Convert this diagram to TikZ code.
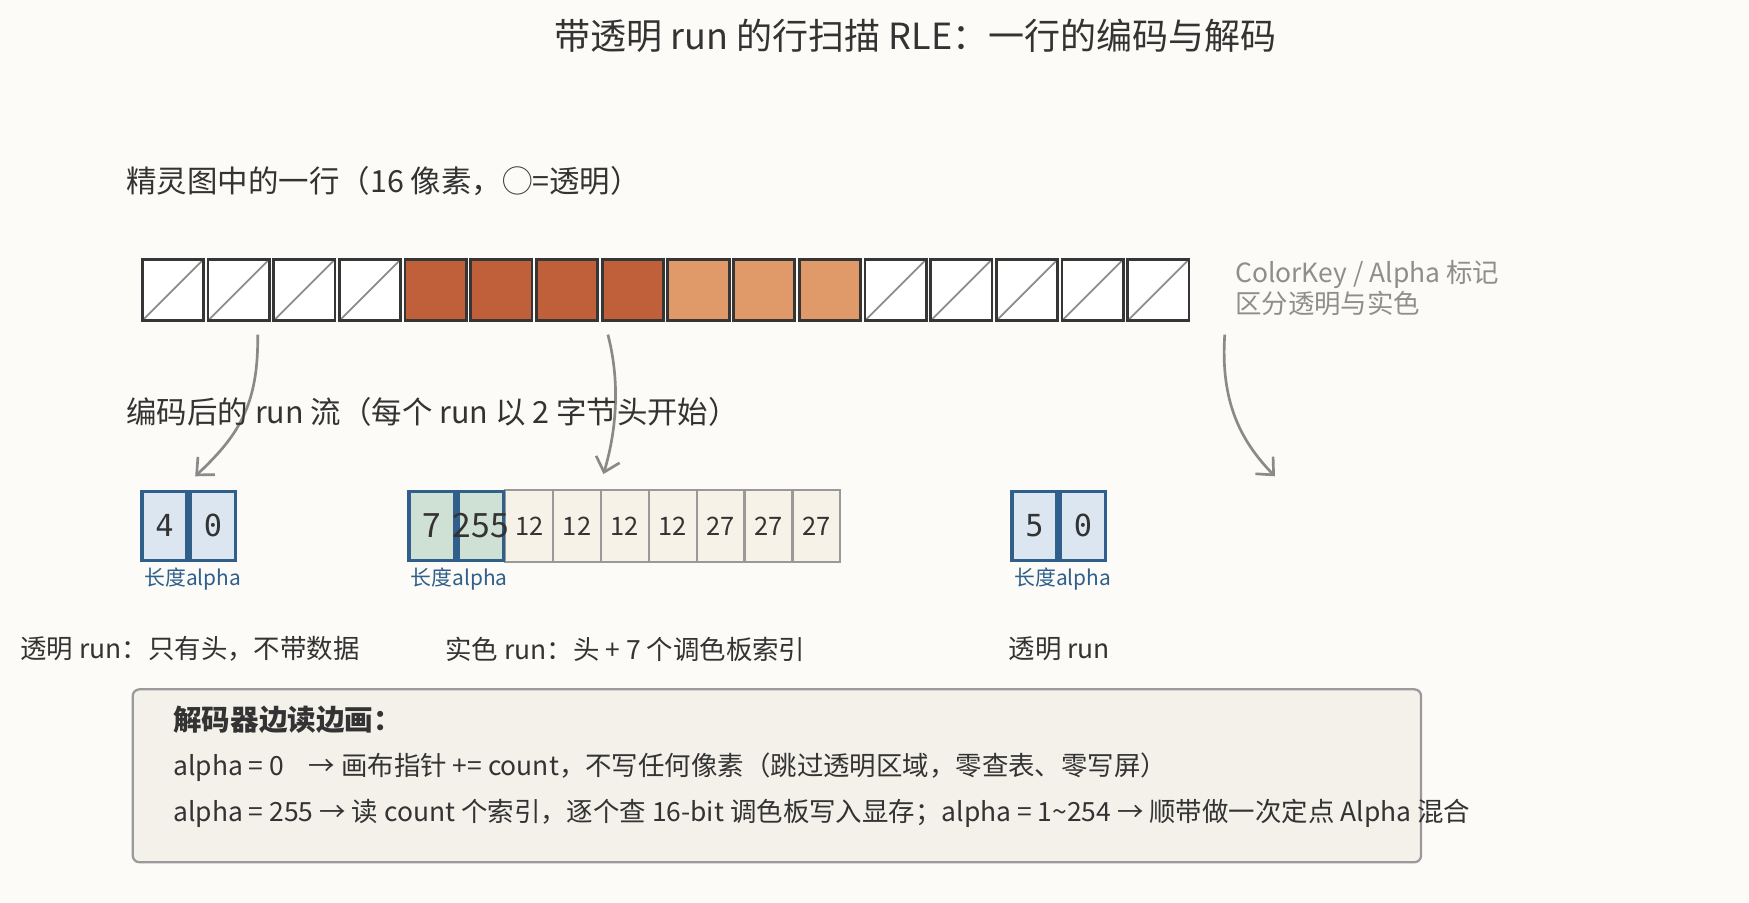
\documentclass[tikz,border=0pt]{standalone}
\usepackage{fontspec}
\setmainfont{Noto Sans CJK SC}
\newfontfamily\monofont{DejaVu Sans Mono}
\usetikzlibrary{positioning,arrows.meta}

\definecolor{bgcol}{HTML}{FCFBF7}
\definecolor{ink}{HTML}{333333}
\definecolor{pixedge}{HTML}{363636}
\definecolor{darkpix}{HTML}{C0603A}
\definecolor{lightpix}{HTML}{E09A6A}
\definecolor{diagcol}{HTML}{8C8C8C}
\definecolor{arrowcol}{HTML}{8A8A8A}
\definecolor{keycol}{HTML}{8E8E8E}
\definecolor{hdredge}{HTML}{2F5F8A}
\definecolor{clearfill}{HTML}{DCE6F1}
\definecolor{solidfill}{HTML}{CFE0D4}
\definecolor{idxedge}{HTML}{999999}
\definecolor{idxfill}{HTML}{F6F2E8}
\definecolor{noteedge}{HTML}{9A9A9A}
\definecolor{notefill}{HTML}{F3F1EA}

\tikzset{
  txt/.style={inner sep=0pt, anchor=west, text=ink, font=\fontsize{11.85}{14}\selectfont},
  captxt/.style={txt, font=\fontsize{13.65}{16}\selectfont},
  pixbox/.style={draw=pixedge, line width=1.25pt, minimum width=27.5pt, minimum height=27.5pt, inner sep=0pt},
  pixt/.style={pixbox, fill=white, path picture={\draw[diagcol, line width=0.8pt] (path picture bounding box.south west) -- (path picture bounding box.north east);}},
  pixd/.style={pixbox, fill=darkpix},
  pixl/.style={pixbox, fill=lightpix},
  hdr/.style={draw=hdredge, line width=1.5pt, minimum width=20.25pt, minimum height=31pt, inner sep=0pt, text=ink},
  hdrclear/.style={hdr, fill=clearfill, font=\monofont\fontsize{13.6}{14}\selectfont},
  hdrsolid/.style={hdr, fill=solidfill, font=\fontsize{15}{16}\selectfont},
  idx/.style={draw=idxedge, line width=1pt, fill=idxfill, minimum width=21.45pt, minimum height=32pt, inner sep=0pt, text=ink, font=\fontsize{11.4}{12}\selectfont},
  lbl/.style={inner sep=0pt, anchor=west, text=hdredge, font=\fontsize{9.35}{11}\selectfont},
  flow/.style={draw=arrowcol, line width=1.2pt, -{Straight Barb[length=6pt,width=11pt]}},
  notebox/.style={draw=noteedge, line width=1pt, fill=notefill, rounded corners=3pt, minimum width=577.5pt, minimum height=77.5pt, inner sep=0pt}
}

\begin{document}
\begin{tikzpicture}[x=0.5pt, y=-0.5pt]
  \fill[bgcol] (0,0) rectangle (1568,809);
  \useasboundingbox (0,0) rectangle (1568,809);

  % title
  \node[txt, anchor=center, font=\fontsize{16.15}{18}\selectfont] (title) at (821,32) {带透明 run 的行扫描 RLE：一行的编码与解码};

  % one sprite row, 16 pixels
  \node[captxt] (rowcap) at (113,162) {精灵图中的一行（16 像素，◯=透明）};
  \foreach \k [count=\i from 0] in {t,t,t,t,d,d,d,d,l,l,l,t,t,t,t,t}
    \node[pix\k] (p\i) at ({155+58.9*\i},260) {};
  \node[txt, text=keycol, align=left] (key) at (1107,258) {ColorKey / Alpha 标记\\区分透明与实色};

  % arrows down to the runs
  \coordinate (a1s) at (231,300); \coordinate (a1e) at (175,427);
  \coordinate (a2s) at (545,300); \coordinate (a2e) at (541,425);
  \coordinate (a3s) at (1098,300); \coordinate (a3e) at (1143,427);
  \draw[flow] (a1s) .. controls (232,365) and (212,392) .. (a1e);
  \draw[flow] (a2s) .. controls (558,350) and (550,395) .. (a2e);
  \draw[flow] (a3s) .. controls (1094,360) and (1112,395) .. (a3e);

  % encoded run stream
  \node[captxt] (runcap) at (113,369) {编码后的 run 流（每个 run 以 2 字节头开始）};

  \node[hdrclear] (r1a) at (147.5,471.5) {4};
  \node[hdrclear] (r1b) at (191,471.5) {0};
  \node[lbl] (l1) at (129,519) {长度alpha};

  \foreach \v [count=\i] in {12,12,12,12,27,27,27}
    \node[idx] (d\i) at ({431.55+42.9*\i},471.5) {\v};
  \node[hdrsolid] (r2a) at (387,471.5) {7};
  \node[hdrsolid] (r2b) at (431,471.5) {\makebox[0pt]{255}};
  \node[lbl] (l2) at (368,519) {长度alpha};

  \node[hdrclear] (r3a) at (927.5,471.5) {5};
  \node[hdrclear] (r3b) at (971,471.5) {0};
  \node[lbl] (l3) at (909,519) {长度alpha};

  \node[txt] (c1) at (18,582) {透明 run：只有头，不带数据};
  \node[txt] (c2) at (399,582) {实色 run：头 + 7 个调色板索引};
  \node[txt] (c3) at (904,582) {透明 run};

  % decoder note
  \node[notebox] (note) at (696.5,695.5) {};
  \node[txt, font=\bfseries\fontsize{12.8}{15}\selectfont] (n0) at (155,645) {解码器边读边画：};
  \node[txt] (n1) at (155,688) {alpha = 0\hspace{11pt}→ 画布指针 += count，不写任何像素（跳过透明区域，零查表、零写屏）};
  \node[txt] (n2) at (155,729) {alpha = 255 → 读 count 个索引，逐个查 16-bit 调色板写入显存；alpha = 1\textasciitilde 254 → 顺带做一次定点 Alpha 混合};
\end{tikzpicture}
\end{document}
